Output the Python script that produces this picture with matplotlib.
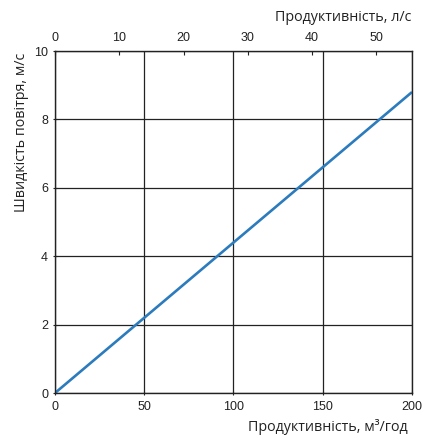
import matplotlib
matplotlib.use("Agg")
from matplotlib import pyplot as plt

plt.rcParams['font.family'] = ['Open Sans', 'DejaVu Sans']

# data
flow_m3h = [0, 200]
speed_ms = [0, 8.8]
x_ticks = [0, 50, 100, 150, 200]
y_ticks = [0, 2, 4, 6, 8, 10]
top_ticks = [0, 10, 20, 30, 40, 50]

fig = plt.figure(figsize=(4.22, 4.36), dpi=100)
ax = fig.add_axes([0.1303, 0.0986, 0.846, 0.7844])

ax.plot(flow_m3h, speed_ms, color='#2b7bbd', lw=1.9, solid_capstyle='butt')
ax.set_xlim(0, 200)
ax.set_ylim(0, 10)
ax.set_xticks(x_ticks)
ax.set_yticks(y_ticks)
ax.grid(True, color='#222222', lw=0.9)
for s in ax.spines.values():
    s.set_color('#222222')
    s.set_linewidth(1.0)
ax.tick_params(labelsize=9, colors='#222222', length=3, direction='inout')
ax.tick_params(axis='x', pad=4)
for lb in ax.get_xticklabels() + ax.get_yticklabels():
    lb.set_family('Liberation Sans')

top = ax.secondary_xaxis('top', functions=(lambda v: v / 3.6, lambda v: v * 3.6))
top.set_xticks(top_ticks)
top.tick_params(labelsize=9, colors='#222222', length=3, direction='in', pad=5)
top.spines['top'].set_visible(False)
for lb in top.get_xticklabels():
    lb.set_family('Liberation Sans')

fig.text(0.976, 0.959, 'Продуктивність, л/с', ha='right', va='center', fontsize=10.3, color='#222222')
fig.text(0.967, 0.021, 'Продуктивність, м³/год', ha='right', va='center', fontsize=10.3, color='#222222')
fig.text(0.05, 0.879, 'Швидкість повітря, м/с', ha='center', va='top', rotation=90, fontsize=10.3, color='#222222')

fig.savefig('out.png', dpi=100)
